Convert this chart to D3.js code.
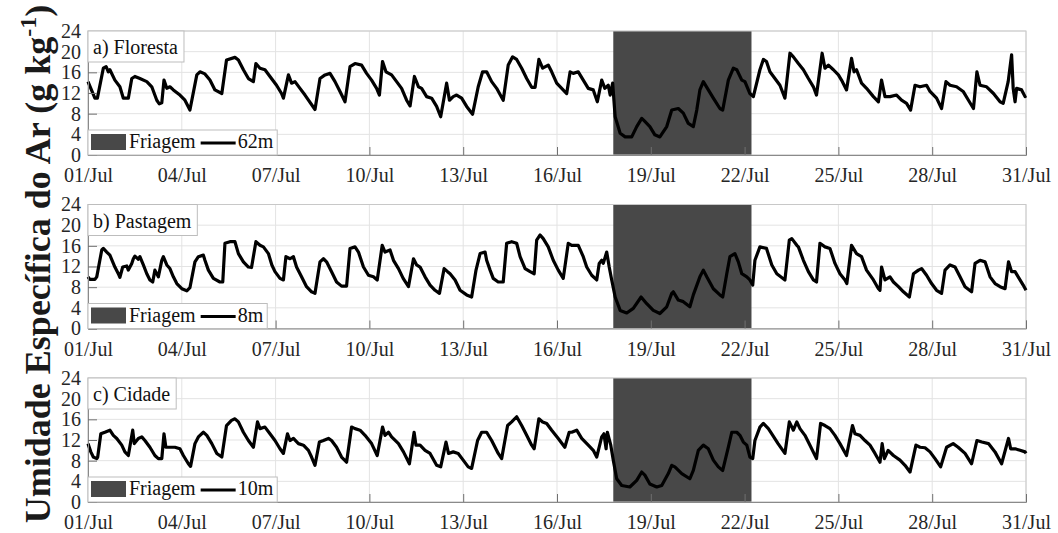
<!DOCTYPE html>
<html>
<head>
<meta charset="utf-8">
<script src="https://cdn.jsdelivr.net/npm/d3@7"></script>
<style>
body { margin: 0; background: #fff; }
svg { display: block; font-family: "Liberation Serif", "Times New Roman", serif; }
</style>
</head>
<body>
<script>
'use strict';

// [dia desde 01/Jul 00h, umidade especifica g/kg]
var floresta = [[0.00,14.2],[0.22,11.0],[0.30,11.0],[0.49,16.8],[0.58,17.1],[0.65,16.1],[0.70,16.5],[0.86,14.5],[1.02,13.2],[1.13,11.0],[1.29,11.0],[1.40,14.8],[1.50,15.2],[1.66,14.8],[1.88,14.2],[2.04,13.2],[2.20,10.6],[2.28,9.9],[2.36,10.1],[2.43,14.5],[2.52,12.9],[2.62,13.2],[2.73,12.6],[2.94,11.6],[3.10,10.6],[3.26,8.7],[3.48,15.5],[3.58,16.1],[3.74,15.7],[3.90,14.5],[4.06,12.6],[4.28,11.9],[4.43,18.4],[4.70,18.9],[4.81,18.4],[4.97,16.5],[5.13,14.8],[5.29,14.2],[5.37,17.7],[5.50,16.8],[5.66,16.5],[5.82,15.2],[6.03,13.5],[6.19,11.9],[6.25,11.0],[6.41,15.5],[6.51,13.9],[6.62,14.2],[6.78,12.9],[6.94,11.6],[7.26,8.8],[7.42,14.8],[7.58,15.5],[7.74,15.8],[7.90,14.2],[8.06,12.3],[8.22,10.3],[8.38,17.1],[8.54,17.7],[8.75,17.4],[8.91,15.8],[9.07,14.5],[9.23,12.9],[9.32,11.6],[9.42,18.1],[9.53,16.1],[9.71,15.5],[9.87,14.2],[10.03,12.9],[10.19,10.6],[10.30,9.5],[10.44,15.2],[10.57,13.2],[10.67,12.9],[10.83,11.3],[10.99,11.0],[11.15,9.4],[11.28,7.4],[11.47,13.9],[11.56,10.6],[11.68,11.3],[11.79,11.6],[11.95,11.0],[12.11,9.4],[12.30,7.9],[12.48,13.2],[12.62,16.1],[12.75,16.1],[12.91,14.2],[13.07,12.9],[13.28,10.6],[13.44,17.4],[13.58,19.0],[13.71,18.5],[13.87,16.8],[14.03,14.8],[14.19,13.1],[14.30,13.1],[14.42,18.5],[14.54,16.8],[14.72,17.4],[14.83,16.1],[14.99,13.9],[15.15,12.9],[15.31,11.9],[15.42,16.1],[15.52,15.8],[15.68,16.1],[15.84,14.5],[16.00,12.9],[16.16,12.6],[16.29,10.3],[16.43,14.5],[16.53,12.9],[16.64,13.5],[16.70,11.6],[16.78,13.9],[16.86,7.4],[17.02,4.2],[17.18,3.5],[17.39,3.5],[17.55,5.5],[17.71,7.1],[17.81,6.5],[17.97,5.5],[18.13,3.9],[18.29,3.5],[18.51,5.5],[18.67,8.7],[18.88,9.0],[19.04,8.1],[19.20,6.1],[19.36,5.5],[19.47,8.7],[19.57,12.6],[19.68,14.2],[19.84,12.6],[20.00,11.0],[20.21,9.0],[20.30,8.7],[20.48,14.5],[20.64,16.8],[20.75,16.5],[20.91,14.5],[21.01,14.2],[21.17,11.9],[21.28,11.3],[21.49,16.5],[21.60,18.5],[21.70,18.1],[21.81,16.1],[21.97,14.8],[22.13,13.5],[22.29,11.0],[22.45,19.7],[22.56,19.0],[22.72,17.7],[22.88,16.5],[23.04,14.8],[23.20,13.2],[23.30,11.6],[23.48,19.7],[23.57,16.8],[23.68,17.4],[23.84,16.5],[24.00,15.5],[24.10,14.5],[24.26,12.6],[24.42,18.7],[24.50,16.1],[24.58,16.5],[24.74,13.9],[24.90,12.9],[25.12,11.3],[25.28,10.3],[25.38,14.5],[25.49,11.3],[25.65,11.3],[25.86,11.6],[26.02,10.6],[26.18,10.0],[26.31,8.7],[26.45,13.5],[26.61,13.2],[26.82,13.5],[26.93,12.3],[27.14,11.0],[27.30,9.0],[27.44,14.2],[27.57,13.5],[27.78,13.2],[27.99,12.3],[28.16,10.6],[28.32,9.0],[28.43,16.1],[28.53,13.5],[28.74,13.2],[28.96,11.9],[29.17,10.3],[29.27,10.0],[29.43,14.2],[29.54,19.4],[29.59,12.9],[29.65,10.3],[29.70,12.9],[29.86,12.6],[29.97,11.3],[30.00,11.5]];

var pastagem = [[0.00,10.0],[0.06,9.5],[0.22,9.5],[0.28,10.0],[0.44,15.2],[0.49,15.5],[0.60,14.8],[0.70,14.2],[0.86,11.9],[0.97,10.6],[1.02,9.9],[1.11,11.9],[1.24,12.1],[1.29,11.3],[1.40,12.6],[1.45,13.5],[1.50,14.0],[1.61,13.4],[1.66,13.9],[1.77,12.3],[1.88,10.6],[1.98,9.4],[2.07,9.0],[2.14,11.3],[2.25,10.0],[2.36,13.2],[2.41,13.9],[2.52,12.3],[2.62,11.6],[2.73,10.0],[2.84,8.7],[3.00,7.7],[3.16,7.3],[3.26,7.9],[3.42,12.9],[3.53,13.9],[3.69,14.2],[3.74,13.2],[3.85,11.3],[4.01,9.7],[4.22,9.0],[4.31,9.0],[4.38,16.5],[4.54,16.8],[4.70,16.8],[4.81,14.5],[4.97,12.9],[5.13,11.9],[5.23,11.8],[5.37,16.8],[5.50,16.1],[5.61,15.8],[5.77,14.5],[5.88,12.3],[5.98,11.0],[6.14,9.7],[6.25,9.4],[6.33,13.9],[6.46,13.5],[6.57,13.9],[6.67,11.9],[6.83,10.0],[6.99,8.1],[7.15,7.1],[7.26,6.8],[7.42,12.9],[7.53,13.5],[7.63,12.9],[7.79,11.0],[7.95,9.0],[8.11,8.2],[8.27,8.2],[8.38,15.5],[8.54,15.8],[8.65,14.8],[8.81,11.9],[8.97,10.3],[9.13,10.0],[9.25,9.4],[9.41,16.1],[9.50,14.8],[9.66,15.2],[9.77,13.2],[9.93,11.6],[10.08,9.7],[10.25,8.1],[10.41,13.5],[10.51,12.3],[10.62,11.9],[10.78,10.0],[10.94,8.4],[11.10,7.4],[11.24,6.8],[11.39,11.6],[11.50,11.0],[11.58,10.6],[11.74,9.4],[11.90,7.4],[12.11,6.5],[12.27,6.1],[12.41,11.3],[12.54,14.5],[12.70,14.8],[12.75,13.2],[12.86,11.3],[12.96,9.7],[13.12,9.0],[13.28,9.0],[13.39,16.5],[13.55,16.8],[13.71,16.5],[13.82,13.9],[13.98,11.6],[14.14,11.0],[14.27,10.6],[14.35,17.1],[14.46,18.1],[14.56,17.4],[14.72,15.8],[14.88,13.2],[15.04,11.3],[15.20,9.7],[15.36,16.5],[15.47,16.1],[15.68,16.1],[15.84,13.9],[15.95,11.9],[16.11,10.3],[16.27,9.4],[16.35,12.6],[16.43,13.2],[16.48,12.6],[16.59,14.8],[16.67,11.9],[16.75,9.4],[16.86,6.1],[17.02,3.5],[17.23,3.0],[17.44,3.9],[17.69,6.1],[17.87,4.8],[18.08,3.5],[18.29,2.9],[18.51,4.2],[18.67,6.8],[18.72,7.1],[18.88,5.5],[19.04,5.2],[19.25,4.2],[19.36,6.5],[19.57,10.0],[19.68,11.3],[19.79,10.0],[20.00,7.7],[20.21,6.5],[20.30,6.1],[20.43,10.6],[20.53,13.9],[20.69,14.5],[20.80,12.9],[20.91,10.6],[21.07,10.0],[21.17,9.4],[21.26,8.4],[21.33,13.2],[21.49,15.8],[21.70,15.5],[21.87,12.3],[22.03,10.6],[22.29,9.4],[22.43,17.1],[22.51,17.4],[22.67,16.1],[22.72,15.8],[22.88,13.2],[23.04,11.0],[23.20,9.4],[23.30,9.0],[23.41,16.5],[23.57,15.8],[23.73,15.5],[23.89,12.6],[24.05,10.6],[24.21,9.4],[24.27,8.7],[24.42,16.1],[24.58,14.5],[24.74,13.9],[24.90,11.3],[25.12,9.4],[25.28,7.7],[25.33,7.4],[25.38,11.9],[25.49,9.4],[25.65,10.0],[25.76,9.0],[25.92,8.1],[26.08,7.1],[26.27,6.1],[26.40,10.6],[26.56,11.3],[26.66,11.6],[26.82,10.3],[26.98,8.7],[27.14,7.4],[27.30,6.8],[27.41,11.3],[27.57,12.3],[27.73,11.9],[27.89,10.0],[28.05,8.1],[28.26,7.1],[28.37,12.6],[28.53,13.2],[28.69,12.9],[28.85,10.0],[29.01,8.7],[29.17,8.1],[29.33,7.7],[29.44,12.9],[29.54,11.0],[29.65,11.0],[29.75,10.0],[29.91,8.4],[30.00,7.4]];

var cidade = [[0.00,11.3],[0.09,9.7],[0.17,8.7],[0.28,8.4],[0.31,8.7],[0.41,13.2],[0.54,13.5],[0.70,13.9],[0.81,12.9],[0.92,12.3],[1.08,11.0],[1.18,9.7],[1.29,9.0],[1.43,13.9],[1.48,11.3],[1.61,12.3],[1.72,12.6],[1.82,11.9],[1.98,10.6],[2.14,9.0],[2.25,8.4],[2.36,8.4],[2.43,13.2],[2.49,10.6],[2.62,10.6],[2.78,10.6],[2.94,10.3],[3.05,9.0],[3.21,7.4],[3.28,6.9],[3.42,11.3],[3.53,12.6],[3.69,13.5],[3.80,12.9],[3.96,11.3],[4.12,9.4],[4.28,8.7],[4.43,14.8],[4.59,15.8],[4.70,16.1],[4.81,15.5],[4.97,13.5],[5.13,11.9],[5.29,10.6],[5.42,15.5],[5.50,14.2],[5.66,14.5],[5.82,13.2],[5.98,11.9],[6.14,10.3],[6.25,9.4],[6.38,13.2],[6.46,11.9],[6.57,12.3],[6.73,11.3],[6.89,11.0],[7.05,10.0],[7.15,8.7],[7.26,7.1],[7.40,11.6],[7.53,11.9],[7.69,12.3],[7.79,11.9],[7.95,10.6],[8.11,8.7],[8.27,7.7],[8.43,14.5],[8.54,14.2],[8.70,13.9],[8.86,12.9],[9.07,11.3],[9.25,9.0],[9.42,14.5],[9.50,12.9],[9.61,13.5],[9.71,12.6],[9.93,11.3],[10.09,9.7],[10.28,7.4],[10.43,13.5],[10.49,11.0],[10.62,11.0],[10.78,10.0],[10.94,9.4],[11.15,7.1],[11.28,6.8],[11.45,11.6],[11.53,9.4],[11.68,9.7],[11.84,9.4],[12.00,8.1],[12.16,6.8],[12.27,6.5],[12.46,11.9],[12.59,13.5],[12.75,13.5],[12.91,11.9],[13.12,9.4],[13.23,8.4],[13.42,14.8],[13.55,15.5],[13.71,16.5],[13.87,14.8],[14.03,12.9],[14.19,11.0],[14.27,10.3],[14.42,16.1],[14.54,15.5],[14.67,15.2],[14.83,13.9],[15.04,12.3],[15.25,10.6],[15.39,13.5],[15.47,13.5],[15.63,13.9],[15.79,12.3],[16.00,11.0],[16.16,10.0],[16.27,8.7],[16.43,12.6],[16.50,13.2],[16.57,10.3],[16.61,13.5],[16.72,11.0],[16.80,8.1],[16.91,4.5],[17.07,3.2],[17.33,2.9],[17.55,4.2],[17.71,5.8],[17.81,5.2],[17.97,3.5],[18.19,2.9],[18.35,3.2],[18.56,5.5],[18.67,7.1],[18.77,6.8],[18.99,5.5],[19.25,4.5],[19.36,6.1],[19.52,10.0],[19.68,11.0],[19.84,10.3],[20.00,8.1],[20.16,6.8],[20.30,6.1],[20.48,10.6],[20.59,13.5],[20.75,13.5],[20.85,12.9],[20.96,11.6],[21.07,11.0],[21.17,8.7],[21.26,8.4],[21.33,11.9],[21.49,14.5],[21.60,15.2],[21.76,14.2],[21.87,13.2],[22.07,11.3],[22.29,9.4],[22.43,15.5],[22.56,13.9],[22.67,15.5],[22.77,14.2],[22.93,12.9],[23.09,11.0],[23.30,8.4],[23.43,15.2],[23.57,14.8],[23.73,14.2],[23.89,12.9],[24.05,11.3],[24.26,9.0],[24.45,14.8],[24.53,13.2],[24.69,12.9],[24.85,11.9],[25.01,11.0],[25.17,9.4],[25.33,7.7],[25.40,11.3],[25.47,8.4],[25.59,10.0],[25.76,9.0],[25.97,8.1],[26.13,7.1],[26.29,5.8],[26.48,11.0],[26.61,10.6],[26.77,10.5],[26.93,9.7],[27.09,8.4],[27.27,6.8],[27.46,10.6],[27.67,11.3],[27.83,10.6],[28.05,9.4],[28.26,7.4],[28.43,11.9],[28.59,11.6],[28.80,11.3],[29.01,9.7],[29.22,7.4],[29.44,12.3],[29.51,10.3],[29.65,10.3],[29.81,10.0],[29.97,9.7],[30.00,9.4]];

var series = [floresta, pastagem, cidade];
var titulos = ["a) Floresta", "b) Pastagem", "c) Cidade"];
var alturas = ["62m", "8m", "10m"];
var friagem = [16.8, 21.22];   // inicio e fim, em dias desde 01/Jul
var yTicks = [0, 4, 8, 12, 16, 20, 24];
var xTickDias = [0, 3, 6, 9, 12, 15, 18, 21, 24, 27, 30];

var width = 1058, height = 533;
var left = 88, right = 1026, panelH = 124;
var tops = [31, 204.5, 378];

var inicio = Date.UTC(2014, 6, 1);
function dia(d) { return new Date(inicio + d * 864e5); }
var fmt = d3.utcFormat("%d/%b");

var svg = d3.select("body").append("svg")
    .attr("width", width)
    .attr("height", height);

svg.append("rect").attr("width", width).attr("height", height).attr("fill", "#fff");

var x = d3.scaleUtc()
    .domain([dia(0), dia(30)])
    .range([left, right]);

series.forEach(function (dados, i) {
    var top = tops[i];
    var y = d3.scaleLinear().domain([0, 24]).range([top + panelH, top]);
    var g = svg.append("g");

    // grade
    g.selectAll(".gy").data(yTicks).enter().append("line")
        .attr("x1", left).attr("x2", right)
        .attr("y1", d => y(d)).attr("y2", d => y(d))
        .attr("stroke", "#e3e3e3").attr("stroke-width", 1);
    g.selectAll(".gx").data(xTickDias).enter().append("line")
        .attr("x1", d => x(dia(d))).attr("x2", d => x(dia(d)))
        .attr("y1", top).attr("y2", top + panelH)
        .attr("stroke", "#e3e3e3").attr("stroke-width", 1);

    // friagem
    g.append("rect")
        .attr("x", x(dia(friagem[0])))
        .attr("y", y(24))
        .attr("width", x(dia(friagem[1])) - x(dia(friagem[0])))
        .attr("height", y(0) - y(24))
        .attr("fill", "#484848");

    // caixa do eixo (topo e direita)
    g.append("rect")
        .attr("x", left).attr("y", top)
        .attr("width", right - left).attr("height", panelH)
        .attr("fill", "none").attr("stroke", "#c8c8c8").attr("stroke-width", 1);

    var line = d3.line()
        .x(d => x(dia(d[0])))
        .y(d => y(d[1]));

    g.append("path")
        .datum(dados)
        .attr("fill", "none")
        .attr("stroke", "#000")
        .attr("stroke-width", 3.2)
        .attr("stroke-linejoin", "round")
        .attr("d", line);

    var xAxis = d3.axisBottom(x)
        .tickValues(xTickDias.map(dia))
        .tickFormat(fmt)
        .tickSize(-8)
        .tickPadding(13);
    var gx = g.append("g")
        .attr("transform", "translate(0," + (top + panelH) + ")")
        .call(xAxis);

    var yAxis = d3.axisLeft(y)
        .tickValues(yTicks)
        .tickSize(-9)
        .tickPadding(7);
    var gy = g.append("g")
        .attr("transform", "translate(" + left + ",0)")
        .call(yAxis);

    [gx, gy].forEach(function (a) {
        a.select(".domain").attr("stroke", "#8a8a8a");
        a.selectAll(".tick line").attr("stroke", "#707070");
        a.selectAll(".tick text")
            .attr("fill", "#262626")
            .style("font-family", "Liberation Serif")
            .style("font-size", "20px");
    });

    // titulo
    var tbox = g.append("rect").attr("fill", "#fff").attr("stroke", "#bdbdbd");
    var ttxt = g.append("text")
        .attr("x", left + 5).attr("y", top + 23)
        .attr("fill", "#111")
        .style("font-size", "20px")
        .text(titulos[i]);
    tbox.attr("x", left).attr("y", top)
        .attr("width", ttxt.node().getComputedTextLength() + 11)
        .attr("height", 31);

    // legenda
    var ly = top + panelH;
    var lbox = g.append("rect").attr("fill", "#fff").attr("stroke", "#bdbdbd");
    g.append("rect")
        .attr("x", left + 3).attr("y", ly - 21)
        .attr("width", 35).attr("height", 16)
        .attr("fill", "#484848");
    var t1 = g.append("text")
        .attr("x", left + 41).attr("y", ly - 7)
        .attr("fill", "#111").style("font-size", "20px")
        .text("Friagem");
    var x1 = left + 41 + t1.node().getComputedTextLength() + 5;
    g.append("line")
        .attr("x1", x1).attr("x2", x1 + 35)
        .attr("y1", ly - 12).attr("y2", ly - 12)
        .attr("stroke", "#000").attr("stroke-width", 3.2);
    var t2 = g.append("text")
        .attr("x", x1 + 37).attr("y", ly - 7)
        .attr("fill", "#111").style("font-size", "20px")
        .text(alturas[i]);
    lbox.attr("x", left).attr("y", ly - 25)
        .attr("width", x1 + 37 + t2.node().getComputedTextLength() + 4 - left)
        .attr("height", 25);
});

// rotulo do eixo y
var ylab = svg.append("text")
    .attr("transform", "translate(50,264) rotate(-90)")
    .attr("text-anchor", "middle")
    .attr("fill", "#1a1a1a")
    .style("font-size", "36px")
    .style("font-weight", "bold");
ylab.append("tspan").text("Umidade Específica do Ar (g kg");
ylab.append("tspan").attr("dy", -14).style("font-size", "24px").text("-1");
ylab.append("tspan").attr("dy", 14).text(")");
</script>
</body>
</html>
